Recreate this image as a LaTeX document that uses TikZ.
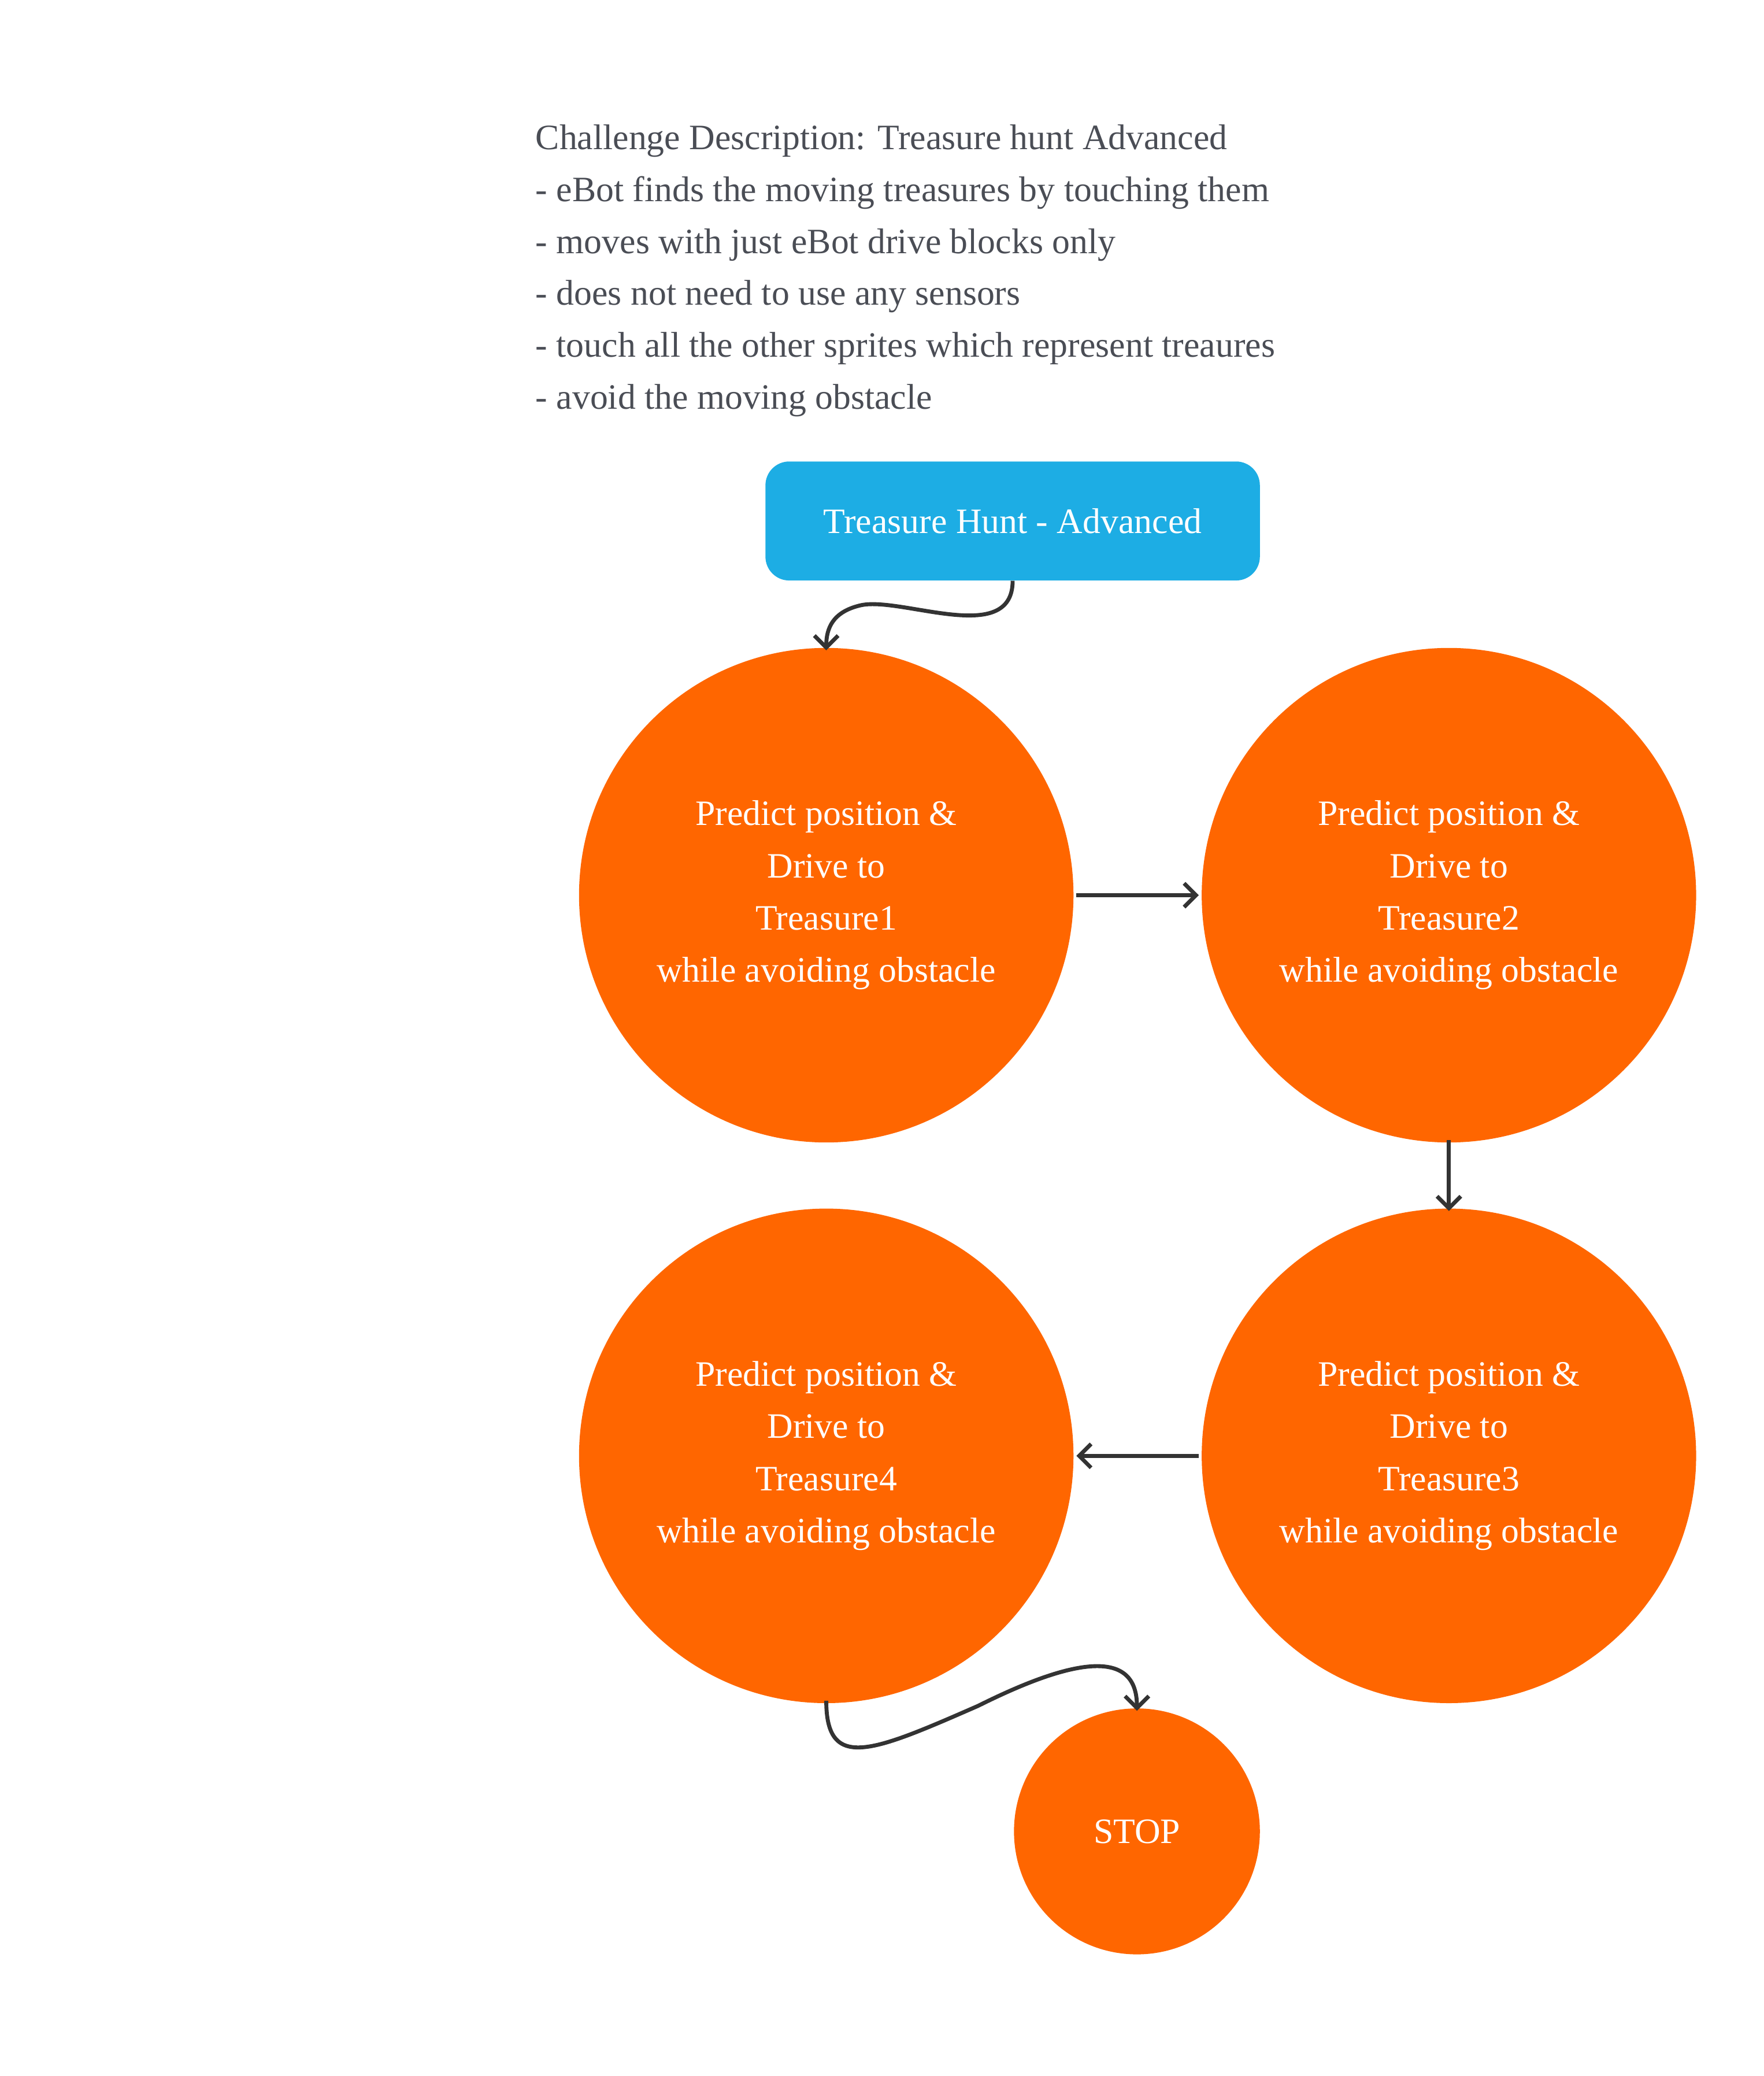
\documentclass[tikz,border=0pt]{standalone}
\usepackage{fontspec}
\setmainfont{Liberation Serif}
\usetikzlibrary{arrows.meta}
\definecolor{orng}{HTML}{FF6600}
\definecolor{blu}{HTML}{1DADE4}
\definecolor{txt}{HTML}{4A4D55}
\definecolor{ln}{HTML}{333333}
\begin{document}
\begin{tikzpicture}[x=1pt,y=-1pt,
  st/.style={circle,fill=orng,minimum size=374pt,inner sep=0pt,text=white,align=center,font=\fontsize{27}{39.5}\selectfont},
  conn/.style={draw=ln,line width=3pt,-{Straight Barb[length=9pt,width=18pt,line width=3pt]}}]
\useasboundingbox (0,0) rectangle (1334,1570);
\node[anchor=north west,align=left,text=txt,font=\fontsize{27}{39.3}\selectfont,inner sep=0pt] (desc) at (405,94)
{Challenge Description: Treasure hunt Advanced\\
- eBot finds the moving treasures by touching them\\
- moves with just eBot drive blocks only\\
- does not need to use any sensors\\
- touch all the other sprites which represent treaures\\
- avoid the moving obstacle};
\node[fill=blu,rounded corners=18pt,minimum width=374pt,minimum height=90pt,text=white,font=\fontsize{27}{32}\selectfont] (start) at (766,394) {Treasure Hunt - Advanced};
\node[st] (c1) at (625,677) {Predict position \&\\Drive to\\Treasure1\\while avoiding obstacle};
\node[st] (c2) at (1096,677) {Predict position \&\\Drive to\\Treasure2\\while avoiding obstacle};
\node[st] (c3) at (1096,1101) {Predict position \&\\Drive to\\Treasure3\\while avoiding obstacle};
\node[st] (c4) at (625,1101) {Predict position \&\\Drive to\\Treasure4\\while avoiding obstacle};
\node[st,minimum size=186pt] (stop) at (860,1385) {STOP};
\draw[conn] (start.south) .. controls (766,490) and (680,450) .. (650,458) .. controls (630,463) and (625,475) .. ([yshift=-2pt]c1.north);
\draw[conn] ([xshift=2pt]c1.east) -- ([xshift=-2pt]c2.west);
\draw[conn] ([yshift=2pt]c2.south) -- ([yshift=-2pt]c3.north);
\draw[conn] ([xshift=-2pt]c3.west) -- ([xshift=2pt]c4.east);
\draw[conn] ([yshift=2pt]c4.south) .. controls (625,1340) and (660,1325) .. (740,1290) .. controls (820,1250) and (860,1250) .. ([yshift=-2pt]stop.north);
\end{tikzpicture}
\end{document}
